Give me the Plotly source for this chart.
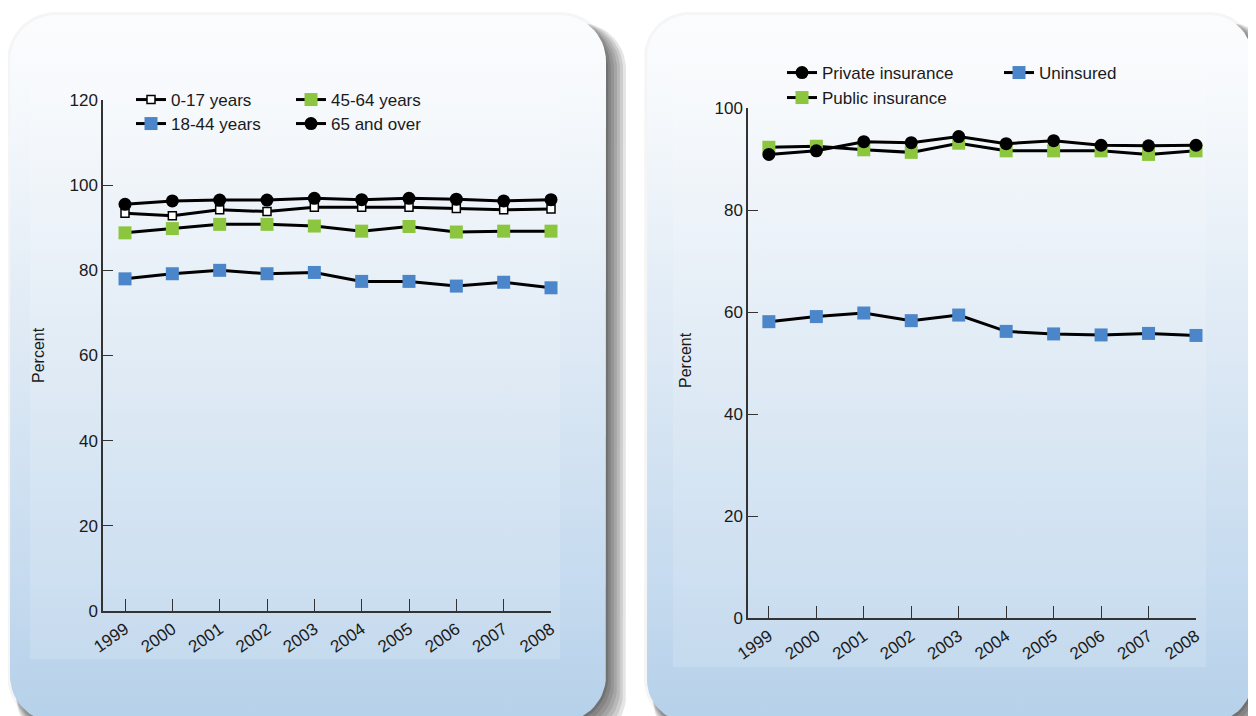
import numpy as np
import plotly.graph_objects as go

# ---- data ------------------------------------------------------------------
years = [1999, 2000, 2001, 2002, 2003, 2004, 2005, 2006, 2007, 2008]
year_labels = [str(y) for y in years]

# left panel: by age group
age_0_17 = [93.4, 92.8, 94.2, 93.8, 94.8, 94.8, 94.8, 94.5, 94.2, 94.4]
age_18_44 = [78.0, 79.2, 80.0, 79.2, 79.5, 77.4, 77.4, 76.3, 77.2, 75.9]
age_45_64 = [88.8, 89.8, 90.8, 90.8, 90.4, 89.2, 90.3, 89.0, 89.2, 89.2]
age_65_over = [95.5, 96.3, 96.5, 96.5, 96.9, 96.6, 96.9, 96.7, 96.3, 96.6]

# right panel: by insurance status
private_ins = [90.9, 91.6, 93.4, 93.2, 94.4, 93.0, 93.6, 92.7, 92.6, 92.7]
public_ins = [92.3, 92.5, 91.8, 91.3, 93.1, 91.6, 91.6, 91.6, 90.9, 91.6]
uninsured = [58.1, 59.1, 59.8, 58.3, 59.4, 56.2, 55.7, 55.5, 55.8, 55.4]

left_ticks = [0, 20, 40, 60, 80, 100, 120]
right_ticks = [0, 20, 40, 60, 80, 100]

# page is 1256x716 but the body keeps an 8px margin, so the figure is 8px smaller
OFF = 8
W, H = 1256 - OFF, 716 - OFF
GREEN = "#8cc63f"
BLUE = "#4a86c9"
FONT = "Arial, Liberation Sans, Helvetica, sans-serif"


def rounded_box(x0, y0, x1, y1, r, n=16):
    # outline of a rounded rectangle in page pixel coords (y down)
    xs, ys = [], []
    corners = [(x1 - r, y0 + r, -90, 0), (x1 - r, y1 - r, 0, 90),
               (x0 + r, y1 - r, 90, 180), (x0 + r, y0 + r, 180, 270)]
    for cx, cy, a0, a1 in corners:
        t = np.radians(np.linspace(a0, a1, n))
        xs += list(cx + r * np.cos(t))
        ys += list(cy + r * np.sin(t))
    xs.append(xs[0])
    ys.append(ys[0])
    return xs, ys


fig = go.Figure()

# ---- background panels (own full-page axes, drawn first) -------------------
panels = [(10, 15, 606, 722, 46), (647, 15, 1252, 722, 42)]
for (x0, y0, x1, y1, r) in panels:
    # faint halo all round
    hx, hy = rounded_box(x0 - 3, y0 - 3, x1 + 3, y1 + 3, r + 3)
    fig.add_trace(go.Scatter(x=hx, y=hy, mode="lines", fill="toself",
                             line=dict(width=0), fillcolor="rgba(0,0,0,0.04)",
                             hoverinfo="skip", showlegend=False,
                             xaxis="x", yaxis="y"))
    # darker shadow to the right / below
    for k in [20, 17, 14, 11, 8, 5, 2]:
        sx, sy = rounded_box(x0 + 6, y0 + 8, x1 + k, y1 + k, r)
        fig.add_trace(go.Scatter(x=sx, y=sy, mode="lines", fill="toself",
                                 line=dict(width=0), fillcolor="rgba(0,0,0,0.1)",
                                 hoverinfo="skip", showlegend=False,
                                 xaxis="x", yaxis="y"))
    px, py = rounded_box(x0, y0, x1, y1, r)
    fig.add_trace(go.Scatter(
        x=px, y=py, mode="lines", fill="toself", line=dict(width=0),
        fillgradient=dict(type="vertical", start=y0, stop=716,
                          colorscale=[[0, "#fbfcfe"], [0.12, "#f6f9fc"],
                                      [0.45, "#dfeaf5"], [0.8, "#c6dbef"],
                                      [1, "#b6d1ea"]]),
        hoverinfo="skip", showlegend=False, xaxis="x", yaxis="y"))

# slightly lighter pasted-in chart areas
for (x0, y0, x1, y1) in [(30, 88, 560, 659), (673, 62, 1206, 667)]:
    fig.add_trace(go.Scatter(x=[x0, x1, x1, x0, x0], y=[y0, y0, y1, y1, y0],
                             mode="lines", fill="toself", line=dict(width=0),
                             fillcolor="rgba(255,255,255,0.14)", hoverinfo="skip",
                             showlegend=False, xaxis="x", yaxis="y"))

# ---- left chart ------------------------------------------------------------
line = dict(color="black", width=3)
fig.add_trace(go.Scatter(x=years, y=age_0_17, name="0-17 years", mode="lines+markers",
                         line=line, legend="legend",
                         marker=dict(symbol="square", size=8, color="white",
                                     line=dict(color="black", width=1.5)),
                         xaxis="x2", yaxis="y2", cliponaxis=False))
fig.add_trace(go.Scatter(x=years, y=age_45_64, name="45-64 years", mode="lines+markers",
                         line=line, legend="legend",
                         marker=dict(symbol="square", size=13, color=GREEN),
                         xaxis="x2", yaxis="y2", cliponaxis=False))
fig.add_trace(go.Scatter(x=years, y=age_18_44, name="18-44 years", mode="lines+markers",
                         line=line, legend="legend2",
                         marker=dict(symbol="square", size=13, color=BLUE),
                         xaxis="x2", yaxis="y2", cliponaxis=False))
fig.add_trace(go.Scatter(x=years, y=age_65_over, name="65 and over", mode="lines+markers",
                         line=line, legend="legend2",
                         marker=dict(symbol="circle", size=13, color="black"),
                         xaxis="x2", yaxis="y2", cliponaxis=False))

# ---- right chart -----------------------------------------------------------
fig.add_trace(go.Scatter(x=years, y=public_ins, name="Public insurance", mode="lines+markers",
                         line=line, legend="legend4",
                         marker=dict(symbol="square", size=13, color=GREEN),
                         xaxis="x3", yaxis="y3", cliponaxis=False))
fig.add_trace(go.Scatter(x=years, y=private_ins, name="Private insurance", mode="lines+markers",
                         line=line, legend="legend3",
                         marker=dict(symbol="circle", size=13, color="black"),
                         xaxis="x3", yaxis="y3", cliponaxis=False))
fig.add_trace(go.Scatter(x=years, y=uninsured, name="Uninsured", mode="lines+markers",
                         line=line, legend="legend3",
                         marker=dict(symbol="square", size=13, color=BLUE),
                         xaxis="x3", yaxis="y3", cliponaxis=False))

tickfont = dict(family=FONT, size=17, color="#1a1a1a")
xcommon = dict(tickvals=years, ticktext=year_labels, tickangle=-35, ticks="inside",
               ticklen=12, tickwidth=1.2, tickcolor="#333", showline=True,
               linecolor="#333", linewidth=1.5, showgrid=False, zeroline=False,
               tickfont=tickfont, fixedrange=True, automargin=False)
ycommon = dict(ticks="inside", ticklen=10, tickwidth=1.2, tickcolor="#333",
               showline=True, linecolor="#333", linewidth=1.5, showgrid=False,
               zeroline=False, tickfont=tickfont, fixedrange=True, automargin=False)

legend_common = dict(orientation="h", bgcolor="rgba(0,0,0,0)", xanchor="left",
                     yanchor="top", font=dict(family=FONT, size=17, color="#1a1a1a"),
                     traceorder="normal", itemclick=False, itemdoubleclick=False)


def px_x(v):
    # page pixel -> paper fraction
    return (v - OFF) / W


def px_y(v):
    return 1 - (v - OFF) / H


fig.update_layout(
    width=W, height=H,
    margin=dict(l=0, r=0, t=0, b=0, pad=0, autoexpand=False),
    paper_bgcolor="white", plot_bgcolor="rgba(0,0,0,0)",
    showlegend=True,
    xaxis=dict(domain=[0, 1], range=[OFF, OFF + W], visible=False, fixedrange=True,
               automargin=False),
    yaxis=dict(domain=[0, 1], range=[OFF + H, OFF], visible=False, fixedrange=True,
               automargin=False),
    xaxis2=dict(domain=[px_x(103), px_x(551)], range=[1998.535, 2008],
                anchor="y2", **xcommon),
    yaxis2=dict(domain=[px_y(611), px_y(100)], range=[0, 120], tickvals=left_ticks,
                anchor="x2", **ycommon),
    xaxis3=dict(domain=[px_x(748), px_x(1196)], range=[1998.56, 2008],
                anchor="y3", **xcommon),
    yaxis3=dict(domain=[px_y(618), px_y(108)], range=[0, 100], tickvals=right_ticks,
                anchor="x3", **ycommon),
    legend=dict(x=px_x(131), y=px_y(82), entrywidth=115, **legend_common),
    legend2=dict(x=px_x(131), y=px_y(106), entrywidth=115, **legend_common),
    legend3=dict(x=px_x(782), y=px_y(55), entrywidth=172, **legend_common),
    legend4=dict(x=px_x(782), y=px_y(80), entrywidth=172, **legend_common),
    annotations=[
        dict(text="Percent", x=px_x(39), y=px_y(355), xref="paper", yref="paper",
             xanchor="center", yanchor="middle", textangle=-90, showarrow=False,
             font=dict(family=FONT, size=16, color="#1a1a1a")),
        dict(text="Percent", x=px_x(685), y=px_y(360), xref="paper", yref="paper",
             xanchor="center", yanchor="middle", textangle=-90, showarrow=False,
             font=dict(family=FONT, size=16, color="#1a1a1a")),
    ],
)

fig.write_html("out.html")
